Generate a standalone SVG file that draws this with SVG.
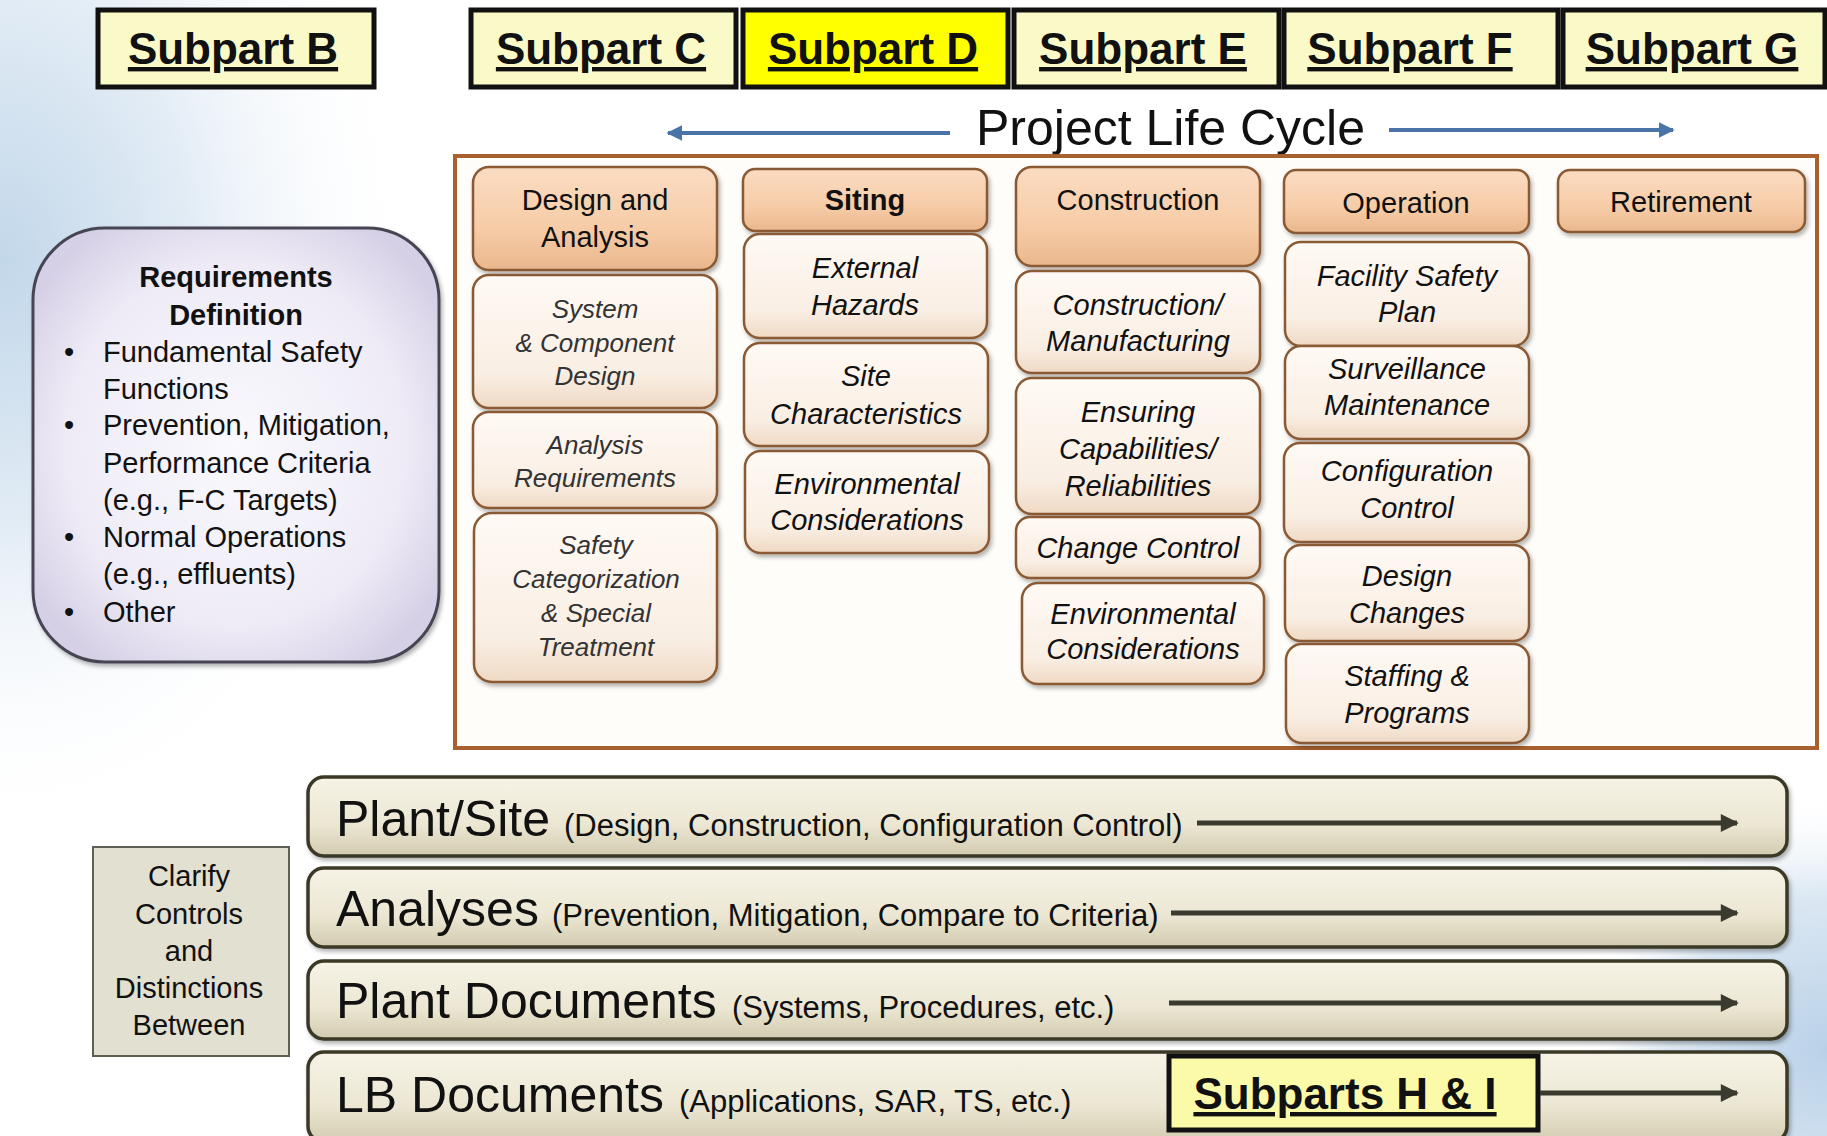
<svg xmlns="http://www.w3.org/2000/svg" width="1827" height="1136" viewBox="0 0 1827 1136">
<defs>
<radialGradient id="bgL" gradientUnits="userSpaceOnUse" cx="0" cy="260" r="420" gradientTransform="translate(0 260) scale(1 1.4) translate(0 -260)">
<stop offset="0" stop-color="#c2d7ea"/><stop offset="0.45" stop-color="#e2ecf5"/><stop offset="1" stop-color="#ffffff" stop-opacity="0"/>
</radialGradient>
<radialGradient id="bgR" gradientUnits="userSpaceOnUse" cx="1827" cy="1050" r="260">
<stop offset="0" stop-color="#b9d1e8"/><stop offset="0.6" stop-color="#dce8f3"/><stop offset="1" stop-color="#ffffff" stop-opacity="0"/>
</radialGradient>
<linearGradient id="subGrad" x1="0" y1="0" x2="0" y2="1">
<stop offset="0" stop-color="#fffaf5"/><stop offset="0.75" stop-color="#f9eee3"/><stop offset="1" stop-color="#efd9c4"/>
</linearGradient>
<linearGradient id="hdrGrad" x1="0" y1="0" x2="0" y2="1">
<stop offset="0" stop-color="#fbdcc2"/><stop offset="0.6" stop-color="#f6cca7"/><stop offset="1" stop-color="#eab78d"/>
</linearGradient>
<radialGradient id="reqGrad" cx="0.5" cy="0.5" r="0.6">
<stop offset="0" stop-color="#faf9fd"/><stop offset="0.7" stop-color="#eeebf6"/><stop offset="1" stop-color="#d6d0e6"/>
</radialGradient>
<linearGradient id="barGrad" x1="0" y1="0" x2="0" y2="1">
<stop offset="0" stop-color="#f6f3e6"/><stop offset="0.6" stop-color="#ece7d3"/><stop offset="1" stop-color="#d2cbb0"/>
</linearGradient>
<filter id="sh" x="-5%" y="-5%" width="110%" height="115%">
<feDropShadow dx="2" dy="3" stdDeviation="2" flood-color="#000" flood-opacity="0.3"/>
</filter>
<marker id="ahBlue" viewBox="0 0 10 10" refX="9" refY="5" markerWidth="4" markerHeight="4" orient="auto-start-reverse">
<path d="M0,0 L10,5 L0,10 z" fill="#4a74a8"/>
</marker>
<marker id="ahDark" viewBox="0 0 10 10" refX="9" refY="5" markerWidth="4.4" markerHeight="3.6" orient="auto">
<path d="M0,0 L10,5 L0,10 z" fill="#3b3a2e"/>
</marker>
<style>
text{font-family:"Liberation Sans",Arial,sans-serif;fill:#111;}
.subpart rect{fill:#fafac8;stroke:#111;stroke-width:5;}
.subpart text{font-size:44px;font-weight:bold;text-anchor:middle;text-decoration:underline;}
.hdr rect{fill:url(#hdrGrad);stroke:#8a5a34;stroke-width:2.5;filter:url(#sh);}
.hdr text{font-size:29px;text-anchor:middle;}
.sub rect{fill:url(#subGrad);stroke:#8a5a34;stroke-width:2.5;filter:url(#sh);}
.sub text{font-size:29px;font-style:italic;text-anchor:middle;}
.c1 text{font-size:26px;fill:#333;}
.bar rect{fill:url(#barGrad);stroke:#3a3826;stroke-width:3.5;filter:url(#sh);}
.big{font-size:50px;}
.small{font-size:31px;}
.req text{font-size:29px;}
.clar text{font-size:29px;text-anchor:middle;}
</style>
</defs>

<rect x="0" y="0" width="1827" height="1136" fill="#ffffff"/>
<rect x="0" y="0" width="480" height="900" fill="url(#bgL)"/>
<rect x="1560" y="760" width="267" height="376" fill="url(#bgR)"/>

<!-- Subpart headers -->
<g id="subpart-b" class="subpart"><rect x="98" y="10" width="276" height="77"/><text x="233" y="64">Subpart B</text></g>
<g id="subpart-c" class="subpart"><rect x="471" y="10" width="265" height="77"/><text x="601" y="64">Subpart C</text></g>
<g id="subpart-d" class="subpart"><rect x="743" y="10" width="265" height="77" style="fill:#ffff00"/><text x="873" y="64">Subpart D</text></g>
<g id="subpart-e" class="subpart"><rect x="1014" y="10" width="265" height="77"/><text x="1143" y="64">Subpart E</text></g>
<g id="subpart-f" class="subpart"><rect x="1284" y="10" width="274" height="77"/><text x="1410" y="64">Subpart F</text></g>
<g id="subpart-g" class="subpart"><rect x="1563" y="10" width="262" height="77"/><text x="1692" y="64">Subpart G</text></g>

<g id="life-cycle-label"><text x="976" y="145" font-size="50">Project Life Cycle</text></g>

<!-- Main frame -->
<g id="life-cycle-frame"><rect x="455" y="156" width="1362" height="592" fill="#fffdf9" stroke="#a8612e" stroke-width="4"/></g>

<!-- Requirements definition -->
<g id="requirements" class="req">
<rect x="33" y="228" width="406" height="434" rx="72" fill="url(#reqGrad)" stroke="#474552" stroke-width="3" filter="url(#sh)"/>
<text x="236" y="287" text-anchor="middle" font-weight="bold">Requirements</text>
<text x="236" y="325" text-anchor="middle" font-weight="bold">Definition</text>
<text x="64" y="362">•</text><text x="103" y="362">Fundamental Safety</text>
<text x="103" y="399">Functions</text>
<text x="64" y="435">•</text><text x="103" y="435">Prevention, Mitigation,</text>
<text x="103" y="473">Performance Criteria</text>
<text x="103" y="510">(e.g., F-C Targets)</text>
<text x="64" y="547">•</text><text x="103" y="547">Normal Operations</text>
<text x="103" y="584">(e.g., effluents)</text>
<text x="64" y="622">•</text><text x="103" y="622">Other</text>
</g>

<!-- Column 1 -->
<g id="design-analysis" class="hdr"><rect x="473" y="167" width="244" height="103" rx="16"/><text x="595" y="210">Design and</text><text x="595" y="247">Analysis</text></g>
<g id="system-component" class="sub c1"><rect x="473" y="275" width="244" height="133" rx="16"/><text x="595" y="318">System</text><text x="595" y="352">&amp; Component</text><text x="595" y="385">Design</text></g>
<g id="analysis-req" class="sub c1"><rect x="473" y="412" width="244" height="96" rx="16"/><text x="595" y="454">Analysis</text><text x="595" y="487">Requirements</text></g>
<g id="safety-cat" class="sub c1"><rect x="474" y="513" width="243" height="169" rx="18"/><text x="596" y="554">Safety</text><text x="596" y="588">Categorization</text><text x="596" y="622">&amp; Special</text><text x="596" y="656">Treatment</text></g>

<!-- Column 2 -->
<g id="siting" class="hdr"><rect x="743" y="169" width="244" height="62" rx="12"/><text x="865" y="210" font-weight="bold">Siting</text></g>
<g id="external-hazards" class="sub"><rect x="744" y="234" width="243" height="104" rx="16"/><text x="865" y="278">External</text><text x="865" y="315">Hazards</text></g>
<g id="site-char" class="sub"><rect x="744" y="343" width="244" height="103" rx="16"/><text x="866" y="386">Site</text><text x="866" y="424">Characteristics</text></g>
<g id="env-cons-siting" class="sub"><rect x="745" y="451" width="244" height="102" rx="16"/><text x="867" y="494">Environmental</text><text x="867" y="530">Considerations</text></g>

<!-- Column 3 -->
<g id="construction" class="hdr"><rect x="1016" y="167" width="244" height="99" rx="16"/><text x="1138" y="210">Construction</text></g>
<g id="construction-manuf" class="sub"><rect x="1016" y="271" width="244" height="102" rx="16"/><text x="1138" y="315">Construction/</text><text x="1138" y="351">Manufacturing</text></g>
<g id="ensuring" class="sub"><rect x="1016" y="378" width="244" height="136" rx="16"/><text x="1138" y="422">Ensuring</text><text x="1138" y="459">Capabilities/</text><text x="1138" y="496">Reliabilities</text></g>
<g id="change-control" class="sub"><rect x="1016" y="517" width="244" height="61" rx="14"/><text x="1138" y="558">Change Control</text></g>
<g id="env-cons-constr" class="sub"><rect x="1022" y="583" width="242" height="101" rx="16"/><text x="1143" y="624">Environmental</text><text x="1143" y="659">Considerations</text></g>

<!-- Column 4 -->
<g id="operation" class="hdr"><rect x="1284" y="170" width="245" height="63" rx="12"/><text x="1406" y="213">Operation</text></g>
<g id="facility-safety" class="sub"><rect x="1285" y="242" width="244" height="104" rx="16"/><text x="1407" y="286">Facility Safety</text><text x="1407" y="322">Plan</text></g>
<g id="surveillance" class="sub"><rect x="1285" y="346" width="244" height="93" rx="16"/><text x="1407" y="379">Surveillance</text><text x="1407" y="415">Maintenance</text></g>
<g id="config-control" class="sub"><rect x="1284" y="443" width="245" height="99" rx="16"/><text x="1407" y="481">Configuration</text><text x="1407" y="518">Control</text></g>
<g id="design-changes" class="sub"><rect x="1285" y="545" width="244" height="96" rx="16"/><text x="1407" y="586">Design</text><text x="1407" y="623">Changes</text></g>
<g id="staffing" class="sub"><rect x="1286" y="644" width="243" height="99" rx="16"/><text x="1407" y="686">Staffing &amp;</text><text x="1407" y="723">Programs</text></g>

<!-- Column 5 -->
<g id="retirement" class="hdr"><rect x="1558" y="170" width="247" height="62" rx="12"/><text x="1681" y="212">Retirement</text></g>

<!-- Clarify -->
<g id="clarify" class="clar">
<rect x="93" y="847" width="196" height="209" fill="#e2e0d0" stroke="#5f5e54" stroke-width="2"/>
<text x="189" y="886">Clarify</text><text x="189" y="924">Controls</text><text x="189" y="961">and</text><text x="189" y="998">Distinctions</text><text x="189" y="1035">Between</text>
</g>

<!-- Bars -->
<g id="bar-plant-site" class="bar"><rect x="308" y="777" width="1479" height="79" rx="16"/><text x="336" y="836" class="big">Plant/Site</text><text x="564" y="836" class="small">(Design, Construction, Configuration Control)</text></g>
<g id="bar-analyses" class="bar"><rect x="308" y="868" width="1479" height="79" rx="16"/><text x="336" y="926" class="big">Analyses</text><text x="552" y="926" class="small">(Prevention, Mitigation, Compare to Criteria)</text></g>
<g id="bar-plant-docs" class="bar"><rect x="308" y="961" width="1479" height="78" rx="16"/><text x="336" y="1018" class="big">Plant Documents</text><text x="732" y="1018" class="small">(Systems, Procedures, etc.)</text></g>
<g id="bar-lb-docs" class="bar"><rect x="308" y="1052" width="1479" height="90" rx="16"/><text x="336" y="1112" class="big">LB Documents</text><text x="679" y="1112" class="small">(Applications, SAR, TS, etc.)</text></g>

<g id="subparts-h-i" class="subpart"><rect x="1169" y="1056" width="369" height="74" style="fill:#fafaa8"/><text x="1345" y="1109">Subparts H &amp; I</text></g>

<!-- Connectors -->
<g id="connectors" fill="none">
<line x1="950" y1="133" x2="668" y2="133" stroke="#4a74a8" stroke-width="4" marker-end="url(#ahBlue)"/>
<line x1="1389" y1="130" x2="1673" y2="130" stroke="#4a74a8" stroke-width="4" marker-end="url(#ahBlue)"/>
<line x1="1197" y1="823" x2="1737" y2="823" stroke="#3b3a2e" stroke-width="5" marker-end="url(#ahDark)"/>
<line x1="1171" y1="913" x2="1737" y2="913" stroke="#3b3a2e" stroke-width="5" marker-end="url(#ahDark)"/>
<line x1="1169" y1="1003" x2="1737" y2="1003" stroke="#3b3a2e" stroke-width="5" marker-end="url(#ahDark)"/>
<line x1="1540" y1="1093" x2="1737" y2="1093" stroke="#3b3a2e" stroke-width="5" marker-end="url(#ahDark)"/>
</g>
</svg>
